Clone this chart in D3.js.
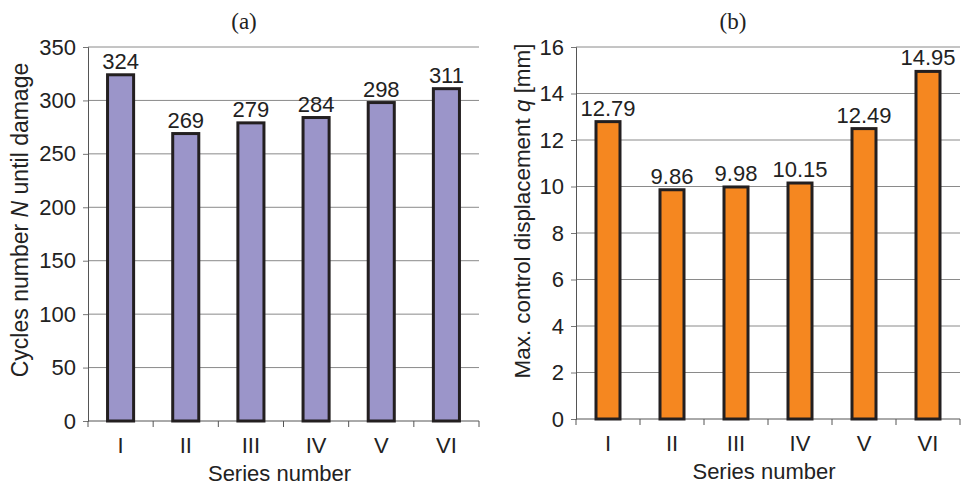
<!DOCTYPE html>
<html>
<head>
<meta charset="utf-8">
<script src="https://cdn.jsdelivr.net/npm/d3@7"></script>
<style>
  body { margin: 0; background: #fff; }
  text { font-family: "Liberation Sans", Arial, sans-serif; fill: #222; }
</style>
</head>
<body>
<div id="plot_area"></div>
<script>
const series = ['I', 'II', 'III', 'IV', 'V', 'VI']
const cycles = [324, 269, 279, 284, 298, 311]
const displacement = [12.79, 9.86, 9.98, 10.15, 12.49, 14.95]
const cyclesTicks = [0, 50, 100, 150, 200, 250, 300, 350]
const dispTicks = [0, 2, 4, 6, 8, 10, 12, 14, 16]

const svgWidth = 962, svgHeight = 487
const fontSize = 22

const svg = d3.select('#plot_area').append('svg')
    .attr('width', svgWidth)
    .attr('height', svgHeight)

function drawPanel(opts) {
    const g = svg.append('g')
    const x = d3.scaleBand().domain(series).range([opts.left, opts.right])
    const y = d3.scaleLinear().domain([0, opts.max]).range([opts.bottom, opts.top])

    // gridlines
    g.append('g').selectAll('line')
        .data(opts.ticks.slice(1))
        .enter().append('line')
        .attr('x1', opts.left).attr('x2', opts.right)
        .attr('y1', d => y(d)).attr('y2', d => y(d))
        .attr('stroke', '#8a8a8a').attr('stroke-width', 1)

    // y axis
    const yAxis = g.append('g')
        .attr('transform', `translate(${opts.left},0)`)
        .call(d3.axisLeft(y).tickValues(opts.ticks).tickSize(5).tickPadding(7).tickFormat(d3.format('d')))
    yAxis.attr('font-family', null).attr('font-size', null)
    yAxis.select('.domain').attr('stroke', '#555')
    yAxis.selectAll('.tick line').attr('stroke', '#777')
    yAxis.selectAll('text').attr('font-size', fontSize).attr('fill', '#222')

    // x axis, ticks sit on the category boundaries
    const xAxis = g.append('g')
        .attr('transform', `translate(0,${opts.bottom})`)
    xAxis.append('line')
        .attr('x1', opts.left).attr('x2', opts.right)
        .attr('stroke', '#555')
    xAxis.selectAll('.bt')
        .data(series.map(s => x(s)).concat([opts.right]))
        .enter().append('line')
        .attr('class', 'bt')
        .attr('x1', d => d).attr('x2', d => d)
        .attr('y1', 0).attr('y2', 6)
        .attr('stroke', '#555')
    xAxis.selectAll('.cat')
        .data(series)
        .enter().append('text')
        .attr('class', 'cat')
        .attr('x', d => x(d) + x.bandwidth() / 2)
        .attr('y', 32)
        .attr('text-anchor', 'middle')
        .attr('font-size', fontSize)
        .text(d => d)

    // bars
    const bw = x.bandwidth() * opts.barFrac
    g.append('g').selectAll('rect')
        .data(opts.values)
        .enter().append('rect')
        .attr('x', (d, i) => x(series[i]) + (x.bandwidth() - bw) / 2)
        .attr('y', d => y(d))
        .attr('width', bw)
        .attr('height', d => opts.bottom - y(d))
        .attr('fill', opts.color)
        .attr('stroke', '#231f20')
        .attr('stroke-width', 3)

    // value labels
    g.append('g').selectAll('text')
        .data(opts.values)
        .enter().append('text')
        .attr('x', (d, i) => x(series[i]) + x.bandwidth() / 2)
        .attr('y', d => y(d) - 6)
        .attr('text-anchor', 'middle')
        .attr('font-size', fontSize)
        .text(d => opts.fmt(d))

    // titles
    svg.append('text')
        .attr('x', opts.titleX).attr('y', 29)
        .attr('text-anchor', 'middle')
        .style('font-family', '"Liberation Serif", "DejaVu Serif", serif')
        .attr('font-size', 23)
        .text(opts.title)

    svg.append('text')
        .attr('x', (opts.left + opts.right) / 2 - 4).attr('y', opts.bottom + 60)
        .attr('text-anchor', 'middle')
        .attr('font-size', fontSize)
        .text('Series number')

    const yl = svg.append('text')
        .attr('transform', `translate(${opts.ylabelX},${opts.ylabelY}) rotate(-90)`)
        .attr('text-anchor', 'middle')
        .attr('font-size', opts.ylabelSize)
    yl.append('tspan').text(opts.ylabel[0])
    yl.append('tspan').style('font-style', 'italic').text(opts.ylabel[1])
    yl.append('tspan').text(opts.ylabel[2])
}

drawPanel({
    left: 88, right: 479, top: 47, bottom: 421,
    max: 350, ticks: cyclesTicks, values: cycles,
    color: '#9b95c9', barFrac: 0.4,
    fmt: d => d3.format('d')(d),
    title: '(a)', titleX: 244,
    ylabelX: 28, ylabelY: 220, ylabelSize: 23,
    ylabel: ['Cycles number ', 'N', ' until damage']
})

drawPanel({
    left: 576, right: 960, top: 47, bottom: 419,
    max: 16, ticks: dispTicks, values: displacement,
    color: '#f58720', barFrac: 0.375,
    fmt: d => d3.format('.2f')(d),
    title: '(b)', titleX: 733,
    ylabelX: 530, ylabelY: 211, ylabelSize: 22.4,
    ylabel: ['Max. control displacement ', 'q', ' [mm]']
})
</script>
</body>
</html>
